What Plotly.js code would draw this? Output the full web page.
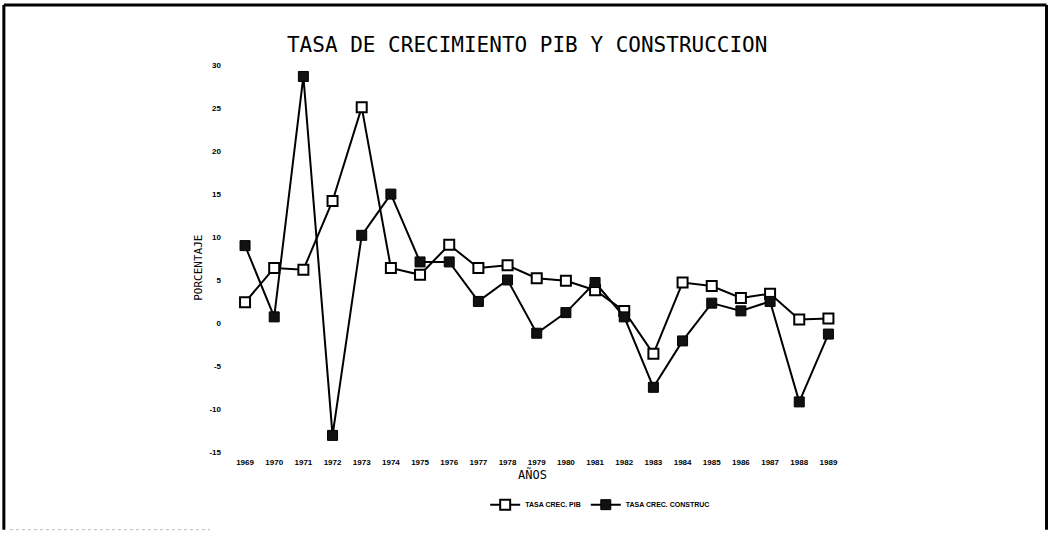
<!DOCTYPE html>
<html>
<head>
<meta charset="utf-8">
<script src="https://cdn.plot.ly/plotly-3.0.1.min.js"></script>
<style>
  html, body { margin: 0; padding: 0; background: #fff; }
  #chart { width: 1048px; height: 536px; }
</style>
</head>
<body>
<div id="chart"></div>
<script>
const years = [1969,1970,1971,1972,1973,1974,1975,1976,1977,1978,1979,1980,1981,1982,1983,1984,1985,1986,1987,1988,1989];
const tasaPIB = [2.4,6.4,6.2,14.2,25.1,6.4,5.6,9.1,6.4,6.7,5.2,4.9,3.8,1.4,-3.6,4.7,4.3,2.9,3.4,0.4,0.5];
const tasaConstruc = [9.0,0.7,28.7,-13.1,10.2,15.0,7.1,7.1,2.5,5.0,-1.2,1.2,4.7,0.7,-7.5,-2.1,2.3,1.4,2.5,-9.2,-1.3];
const yTicks = [30,25,20,15,10,5,0,-5,-10,-15];
const seriesNames = ['TASA CREC. PIB', 'TASA CREC. CONSTRUC'];

const L = 222, R = 842.6, T = 61, B = 456.3;
const W = 1048, H = 536;
const px = v => (v - L) / (R - L);
const py = v => (B - v) / (B - T);

const tickFont = {family: 'Liberation Sans, Arial, sans-serif', size: 8, color: '#000', weight: 'bold'};

const traces = [
  {
    x: years, y: tasaPIB, name: seriesNames[0], type: 'scatter', mode: 'lines+markers',
    line: {color: '#000', width: 2},
    marker: {symbol: 'square', size: 10, color: '#fff', line: {color: '#000', width: 2}}
  },
  {
    x: years, y: tasaConstruc, name: seriesNames[1], type: 'scatter', mode: 'lines+markers',
    line: {color: '#000', width: 2},
    marker: {symbol: 'square', size: 10, color: '#111', line: {color: '#000', width: 1}}
  }
];

const frame = {type: 'line', xref: 'paper', yref: 'paper', line: {color: '#000', width: 3}};
const layout = {
  width: W, height: H,
  margin: {l: L, r: W - R, t: T, b: H - B},
  paper_bgcolor: '#fff', plot_bgcolor: '#fff',
  showlegend: true,
  title: {
    text: 'TASA DE CRECIMIENTO PIB Y CONSTRUCCION',
    x: px(527), xanchor: 'center', xref: 'paper',
    y: 1 - 45 / H, yanchor: 'middle',
    font: {family: 'DejaVu Sans Mono, monospace', size: 21, color: '#000'}
  },
  xaxis: {
    range: [1968.21, 1989.5],
    tickmode: 'array', tickvals: years, ticktext: years.map(String),
    showgrid: false, zeroline: false, showline: false, ticks: '',
    tickfont: tickFont,
    title: {text: 'AÑOS', font: {family: 'DejaVu Sans Mono, monospace', size: 12, color: '#000'}, standoff: 2},
    automargin: false
  },
  yaxis: {
    range: [-15.5, 30.5],
    tickmode: 'array', tickvals: yTicks, ticktext: yTicks.map(String),
    showgrid: false, zeroline: false, showline: false, ticks: '',
    tickfont: tickFont,
    automargin: false
  },
  legend: {
    orientation: 'h', x: px(485), xanchor: 'left', y: py(505), yanchor: 'middle',
    font: {family: 'Liberation Sans, Arial, sans-serif', size: 7, color: '#000', weight: 'bold'},
    itemwidth: 30, tracegroupgap: 0, bgcolor: 'rgba(0,0,0,0)'
  },
  annotations: [
    {
      text: 'PORCENTAJE', xref: 'paper', yref: 'paper', x: px(199), y: py(268),
      xanchor: 'center', yanchor: 'middle', textangle: -90, showarrow: false,
      font: {family: 'DejaVu Sans Mono, monospace', size: 11, color: '#000'}
    }
  ],
  shapes: [
    Object.assign({}, frame, {x0: px(4), x1: px(4), y0: py(5), y1: py(530)}),
    Object.assign({}, frame, {x0: px(4), x1: px(1046), y0: py(5), y1: py(5)}),
    Object.assign({}, frame, {x0: px(1046), x1: px(1046), y0: py(5), y1: py(530)}),
    {type: 'line', xref: 'paper', yref: 'paper', x0: px(10), x1: px(210), y0: py(530), y1: py(530), line: {color: '#bbb', width: 1, dash: 'dot'}}
  ]
};

Plotly.newPlot('chart', traces, layout, {displayModeBar: false, staticPlot: true});
</script>
</body>
</html>
